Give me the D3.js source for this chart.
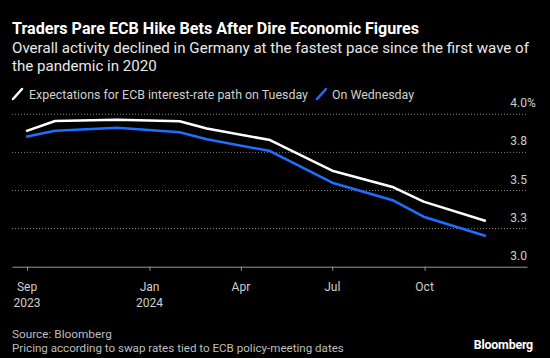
<!DOCTYPE html>
<html>
<head>
<meta charset="utf-8">
<script src="https://cdn.jsdelivr.net/npm/d3@7"></script>
<style>
  html, body { margin: 0; padding: 0; background: #000; }
  svg { display: block; }
  text { font-family: Roboto, "Noto Sans", sans-serif; }
</style>
</head>
<body>
<svg id="chart" width="550" height="358"></svg>
<script>
// ---- data ----
const dates = ["2023-08-31", "2023-09-29", "2023-11-30", "2024-01-31", "2024-02-27",
               "2024-04-30", "2024-07-01", "2024-08-31", "2024-09-30", "2024-12-01"];
const tuesday = [3.89, 3.956, 3.964, 3.954, 3.907, 3.831, 3.630, 3.521, 3.427, 3.300];
const wednesday = [3.853, 3.892, 3.912, 3.882, 3.836, 3.759, 3.551, 3.434, 3.328, 3.201];
const yTicks = [3.0, 3.25, 3.5, 3.75, 4.0];
const yTickLabels = ["3.0", "3.3", "3.5", "3.8", "4.0"];
const xTickDates = ["2023-09-01", "2024-01-01", "2024-04-01", "2024-07-01", "2024-10-01"];
const xTickLabels = [["Sep", "2023"], ["Jan", "2024"], ["Apr"], ["Jul"], ["Oct"]];
const seriesNames = ["Expectations for ECB interest-rate path on Tuesday", "On Wednesday"];
const seriesColors = ["#ffffff", "#1f6fff"];

(function () {
const parse = d3.timeParse("%Y-%m-%d");
const svg = d3.select("#chart");

const pLeft = 12, pRight = 527, pTop = 114.3, pBottom = 266.7;
const x = d3.scaleTime().domain([parse("2023-08-17"), parse("2025-01-11")]).range([pLeft, pRight]);
const y = d3.scaleLinear().domain([3.0, 4.0]).range([pBottom, pTop]);

// title block
svg.append("text").attr("x", 12).attr("y", 34).attr("fill", "#fff")
  .attr("font-size", 16.1).attr("font-weight", 700)
  .text("Traders Pare ECB Hike Bets After Dire Economic Figures");
svg.append("text").attr("x", 12).attr("y", 52.5).attr("fill", "#e8e8e8")
  .attr("font-size", 15.1)
  .text("Overall activity declined in Germany at the fastest pace since the first wave of");
svg.append("text").attr("x", 12).attr("y", 70.5).attr("fill", "#e8e8e8")
  .attr("font-size", 15.1)
  .text("the pandemic in 2020");

// legend
const legendPos = [[13, 29], [317, 332]];
seriesNames.forEach((name, i) => {
  const [ix, tx] = legendPos[i];
  svg.append("line").attr("x1", ix).attr("y1", 99).attr("x2", ix + 9).attr("y2", 89)
    .attr("stroke", seriesColors[i]).attr("stroke-width", 2.5).attr("stroke-linecap", "round");
  svg.append("text").attr("x", tx).attr("y", 98.5).attr("fill", "#cfcfcf")
    .attr("font-size", 12.4).text(name);
});

// gridlines
svg.append("g").selectAll("line").data(yTicks.filter(d => d > 3.0)).join("line")
  .attr("x1", pLeft).attr("x2", pRight)
  .attr("y1", d => y(d)).attr("y2", d => y(d))
  .attr("stroke", "#808080").attr("stroke-width", 1).attr("stroke-dasharray", "1,2");

// y tick labels
svg.append("g").selectAll("text").data(yTicks).join("text")
  .attr("x", pRight).attr("y", d => y(d) - 7)
  .attr("text-anchor", "end").attr("fill", "#cfcfcf").attr("font-size", 12)
  .text((d, i) => yTickLabels[i]);
svg.append("text").attr("x", pRight).attr("y", y(4.0) - 7).attr("fill", "#cfcfcf")
  .attr("font-size", 12).text("%");

// x axis
const xAxis = d3.axisBottom(x)
  .tickValues(xTickDates.map(parse))
  .tickSize(4).tickSizeOuter(0).tickFormat("");
const gx = svg.append("g").attr("transform", `translate(0,${pBottom})`).call(xAxis);
gx.select(".domain").attr("stroke", "#999");
gx.selectAll(".tick line").attr("stroke", "#999");
xTickDates.forEach((d, i) => {
  const t = svg.append("text").attr("x", x(parse(d))).attr("y", 291)
    .attr("text-anchor", "middle").attr("fill", "#cfcfcf").attr("font-size", 12);
  xTickLabels[i].forEach((s, j) => {
    t.append("tspan").attr("x", x(parse(d))).attr("dy", j === 0 ? 0 : 16).text(s);
  });
});

// lines
const line = d3.line().x(d => x(d[0])).y(d => y(d[1]));
[tuesday, wednesday].forEach((vals, i) => {
  const pts = dates.map((d, k) => [parse(d), vals[k]]);
  svg.append("path").datum(pts).attr("d", line)
    .attr("fill", "none").attr("stroke", seriesColors[i])
    .attr("stroke-width", 2.5).attr("stroke-linejoin", "round");
});

// footer
svg.append("text").attr("x", 12).attr("y", 338).attr("fill", "#bdbdbd")
  .attr("font-size", 11.8).text("Source: Bloomberg");
svg.append("text").attr("x", 12).attr("y", 352).attr("fill", "#bdbdbd")
  .attr("font-size", 11.6).text("Pricing according to swap rates tied to ECB policy-meeting dates");
svg.append("text").attr("x", 533).attr("y", 349).attr("text-anchor", "end")
  .attr("fill", "#fff").attr("font-size", 12.4).attr("font-weight", 700)
  .attr("letter-spacing", -0.2).text("Bloomberg");
})();
</script>
</body>
</html>
